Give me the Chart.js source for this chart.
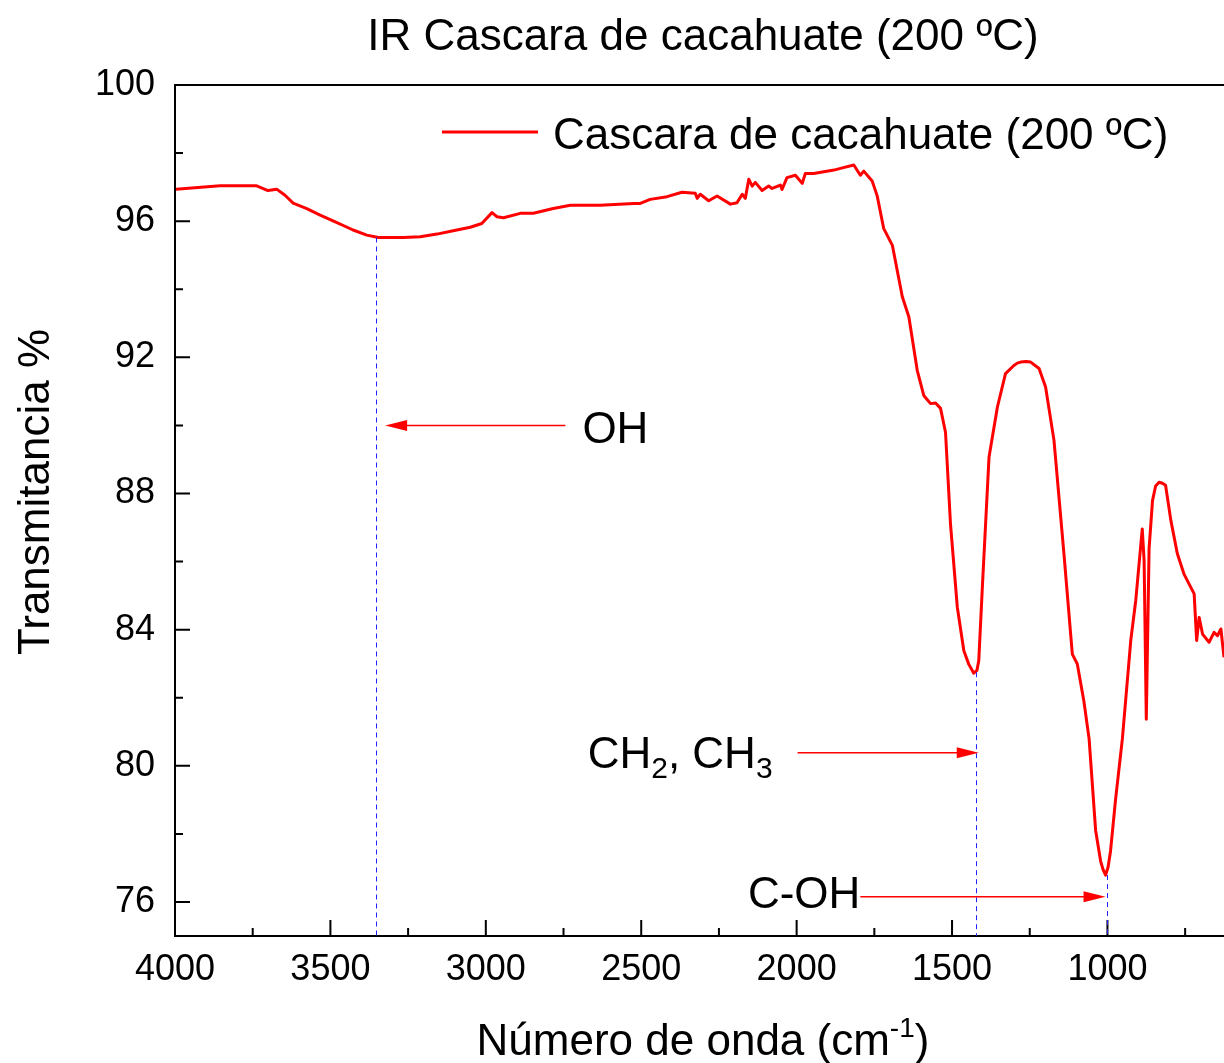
<!DOCTYPE html>
<html>
<head>
<meta charset="utf-8">
<script src="https://cdn.jsdelivr.net/npm/chart.js@4.4.1/dist/chart.umd.min.js"></script>
<style>
  html, body { margin: 0; padding: 0; background: #fff; overflow: hidden; }
  #wrap { width: 1224px; height: 1063px; }
</style>
</head>
<body>
<div id="wrap"><canvas id="ir"></canvas></div>
<script>
// espectro IR (cm-1, %T)
const wavenumber = [
  3997, 3855, 3737, 3701, 3673, 3646, 3620, 3576, 3533, 3479,
  3427, 3383, 3346, 3266, 3211, 3157, 3105, 3050, 3013, 2980,
  2964, 2943, 2889, 2847, 2783, 2728, 2632, 2524, 2503, 2471,
  2417, 2369, 2326, 2320, 2310, 2283, 2256, 2213, 2192, 2175,
  2165, 2154, 2143, 2133, 2111, 2090, 2079, 2052, 2047, 2031,
  2004, 1982, 1972, 1945, 1880, 1859, 1816, 1795, 1784, 1757,
  1741, 1720, 1692, 1660, 1639, 1612, 1591, 1569, 1553, 1537,
  1521, 1505, 1483, 1462, 1446, 1430, 1420, 1414, 1403, 1381,
  1354, 1328, 1301, 1290, 1279, 1262, 1247, 1220, 1199, 1172,
  1140, 1113, 1097, 1076, 1059, 1038, 1022, 1014, 1006, 998,
  990, 974, 952, 925, 909, 888, 882, 875, 866, 855,
  845, 834, 823, 813, 796, 775, 754, 721, 713, 705,
  694, 673, 657, 646, 635, 625
];
const transmittance = [
  96.94, 97.04, 97.04, 96.90, 96.94, 96.76, 96.53, 96.37, 96.18, 95.96,
  95.74, 95.59, 95.52, 95.52, 95.54, 95.62, 95.72, 95.82, 95.93, 96.25,
  96.13, 96.10, 96.23, 96.23, 96.37, 96.47, 96.47, 96.52, 96.52, 96.64,
  96.72, 96.85, 96.82, 96.67, 96.79, 96.60, 96.74, 96.50, 96.54, 96.79,
  96.67, 97.23, 97.03, 97.14, 96.90, 97.03, 96.96, 97.06, 96.93, 97.28,
  97.35, 97.11, 97.40, 97.40, 97.50, 97.55, 97.65, 97.35, 97.47, 97.18,
  96.75, 95.79, 95.29, 93.78, 93.19, 91.62, 90.88, 90.64, 90.66, 90.50,
  89.80, 87.11, 84.66, 83.38, 82.98, 82.72, 82.80, 83.09, 85.15, 89.07,
  90.54, 91.52, 91.76, 91.83, 91.86, 91.88, 91.86, 91.67, 91.13, 89.56,
  86.23, 83.28, 82.99, 81.91, 80.79, 78.10, 77.20, 76.95, 76.79, 77.02,
  77.50, 79.00, 80.79, 83.68, 84.85, 86.96, 86.03, 81.37, 86.39, 87.79,
  88.22, 88.33, 88.30, 88.24, 87.21, 86.23, 85.64, 85.05, 83.68, 84.36,
  83.87, 83.63, 83.92, 83.82, 84.02, 83.19
];

const xMajor = [4000, 3500, 3000, 2500, 2000, 1500, 1000];
const xMinor = [3750, 3250, 2750, 2250, 1750, 1250, 750];
const yMajor = [76, 80, 84, 88, 92, 96, 100];
const yMinor = [78, 82, 86, 90, 94, 98];

// bandas marcadas
const bandWn = [3353, 1424, 1003];
const bandMin = [95.52, 82.75, 76.79];
const arrowTail = [2744, 1997, 1795];
const arrowTip = [3324, 1414, 1006];
const arrowT = [90.0, 80.38, 76.15];

const FONT = "'Liberation Sans', Arial, Helvetica, sans-serif";

function richText(ctx, parts, x, y, align) {
  let w = 0;
  parts.forEach(p => { ctx.font = p.size + 'px ' + FONT; w += ctx.measureText(p.t).width; });
  let cx = align === 'right' ? x - w : align === 'center' ? x - w / 2 : x;
  ctx.textAlign = 'left';
  ctx.textBaseline = 'alphabetic';
  parts.forEach(p => {
    ctx.font = p.size + 'px ' + FONT;
    ctx.fillText(p.t, cx, y + (p.dy || 0));
    cx += ctx.measureText(p.t).width;
  });
}

function arrow(ctx, x1, x2, y) {
  const dir = Math.sign(x2 - x1);
  ctx.beginPath();
  ctx.moveTo(x1, y);
  ctx.lineTo(x2 - dir * 10, y);
  ctx.stroke();
  ctx.beginPath();
  ctx.moveTo(x2, y);
  ctx.lineTo(x2 - dir * 22, y - 5.5);
  ctx.lineTo(x2 - dir * 22, y + 5.5);
  ctx.closePath();
  ctx.fill();
}

const decor = {
  id: 'decor',
  afterDraw(chart) {
    const ctx = chart.ctx;
    const a = chart.chartArea;
    const xs = chart.scales.x, ys = chart.scales.y;
    ctx.save();

    // borde superior
    ctx.strokeStyle = '#000';
    ctx.lineWidth = 2;
    ctx.beginPath();
    ctx.moveTo(a.left, a.top);
    ctx.lineTo(a.right + 2, a.top);
    ctx.stroke();

    // ticks hacia dentro
    ctx.beginPath();
    yMajor.forEach(v => { const p = ys.getPixelForValue(v); ctx.moveTo(a.left, p); ctx.lineTo(a.left + 15, p); });
    yMinor.forEach(v => { const p = ys.getPixelForValue(v); ctx.moveTo(a.left, p); ctx.lineTo(a.left + 8, p); });
    xMajor.forEach(v => { const p = xs.getPixelForValue(v); ctx.moveTo(p, a.bottom); ctx.lineTo(p, a.bottom - 16); });
    xMinor.forEach(v => { const p = xs.getPixelForValue(v); ctx.moveTo(p, a.bottom); ctx.lineTo(p, a.bottom - 8); });
    ctx.stroke();

    // lineas punteadas azules
    ctx.strokeStyle = '#2222ff';
    ctx.lineWidth = 1;
    ctx.setLineDash([5, 4]);
    bandWn.forEach((w, i) => {
      const px = Math.round(xs.getPixelForValue(w)) + 0.5;
      ctx.beginPath();
      ctx.moveTo(px, ys.getPixelForValue(bandMin[i]));
      ctx.lineTo(px, a.bottom);
      ctx.stroke();
    });
    ctx.setLineDash([]);

    // flechas
    ctx.strokeStyle = '#ff0000';
    ctx.fillStyle = '#ff0000';
    ctx.lineWidth = 1.5;
    const ay = arrowT.map(v => ys.getPixelForValue(v));
    const tx = arrowTail.map(v => xs.getPixelForValue(v));
    arrowTail.forEach((w, i) => arrow(ctx, tx[i], xs.getPixelForValue(arrowTip[i]), ay[i]));

    ctx.fillStyle = '#000';
    richText(ctx, [{ t: 'OH', size: 44 }], tx[0] + 17, ay[0] + 18, 'left');
    richText(ctx, [
      { t: 'CH', size: 44 }, { t: '2', size: 30, dy: 10 },
      { t: ', CH', size: 44 }, { t: '3', size: 30, dy: 10 }
    ], tx[1] - 25, ay[1] + 15, 'right');
    richText(ctx, [{ t: 'C-OH', size: 44 }], tx[2], ay[2] + 11, 'right');

    // titulo
    richText(ctx, [{ t: 'IR Cascara de cacahuate (200 ºC)', size: 44 }], 703, 50, 'center');

    // leyenda
    const ds = chart.data.datasets[0];
    ctx.strokeStyle = ds.borderColor;
    ctx.lineWidth = 3;
    ctx.beginPath();
    ctx.moveTo(442, 132);
    ctx.lineTo(538, 132);
    ctx.stroke();
    richText(ctx, [{ t: ds.label, size: 44 }], 553, 149, 'left');

    // titulos de ejes
    richText(ctx, [
      { t: 'Número de onda (cm', size: 44 }, { t: '-1', size: 28, dy: -18 }, { t: ')', size: 44 }
    ], 703, 1055, 'center');
    ctx.translate(49, 492);
    ctx.rotate(-Math.PI / 2);
    richText(ctx, [{ t: 'Transmitancia %', size: 44 }], 0, 0, 'center');

    ctx.restore();
  }
};

new Chart(document.getElementById('ir'), {
  type: 'line',
  data: {
    datasets: [{
      label: 'Cascara de cacahuate (200 ºC)',
      data: wavenumber.map((w, i) => ({ x: w, y: transmittance[i] })),
      borderColor: '#ff0000',
      borderWidth: 3,
      pointRadius: 0,
      tension: 0,
      borderJoinStyle: 'round',
      fill: false
    }]
  },
  options: {
    responsive: true,
    maintainAspectRatio: false,
    animation: false,
    layout: { padding: { top: 85, left: 0, right: 0, bottom: 0 } },
    plugins: {
      legend: { display: false },
      title: { display: false },
      tooltip: { enabled: false }
    },
    scales: {
      x: {
        type: 'linear',
        reverse: true,
        min: 625,
        max: 4000,
        afterBuildTicks: s => { s.ticks = xMajor.map(v => ({ value: v })); },
        afterFit: s => { s.height = 127; },
        grid: { display: false, drawTicks: false },
        border: { display: true, color: '#000', width: 2 },
        ticks: {
          color: '#000', font: { family: FONT, size: 36 }, padding: 12,
          maxRotation: 0, autoSkip: false, callback: v => String(v)
        }
      },
      y: {
        min: 75,
        max: 100,
        afterBuildTicks: s => { s.ticks = yMajor.map(v => ({ value: v })); },
        afterFit: s => { s.width = 175; },
        grid: { display: false, drawTicks: false },
        border: { display: true, color: '#000', width: 2 },
        ticks: { color: '#000', font: { family: FONT, size: 36 }, padding: 20, callback: v => String(v) }
      }
    }
  },
  plugins: [decor]
});
</script>
</body>
</html>
